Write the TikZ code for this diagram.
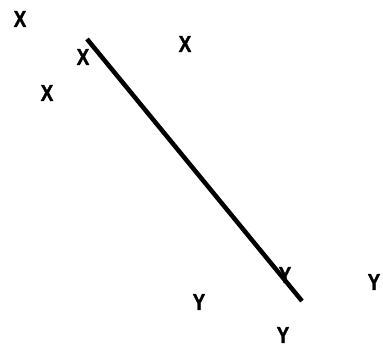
\documentclass[tikz,border=0pt]{standalone}
\usepackage{fontspec}
\setmainfont{Liberation Sans}
\newfontfamily\lblfont[FakeStretch=0.82, FakeBold=1.2]{Liberation Sans Bold}
\usepackage{tikz}

\begin{document}
\begin{tikzpicture}[x=1pt, y=-1pt, lbl/.style={font=\lblfont\fontsize{23}{26}\selectfont, inner sep=0pt}]
\useasboundingbox (0,0) rectangle (383,349);
\node[lbl] (x1) at (20, 19) {X};
\node[lbl] (x2) at (83, 57) {X};
\node[lbl] (x3) at (47, 93) {X};
\node[lbl] (x4) at (185, 44) {X};
\node[lbl] (y1) at (199, 302) {Y};
\node[lbl] (y2) at (285, 275) {Y};
\node[lbl] (y3) at (374, 282) {Y};
\node[lbl] (y4) at (283, 335) {Y};
\coordinate (top) at (87, 39);
\coordinate (bot) at (302, 301);
\draw[line width=4.5pt] (top) -- (bot);
\end{tikzpicture}
\end{document}
